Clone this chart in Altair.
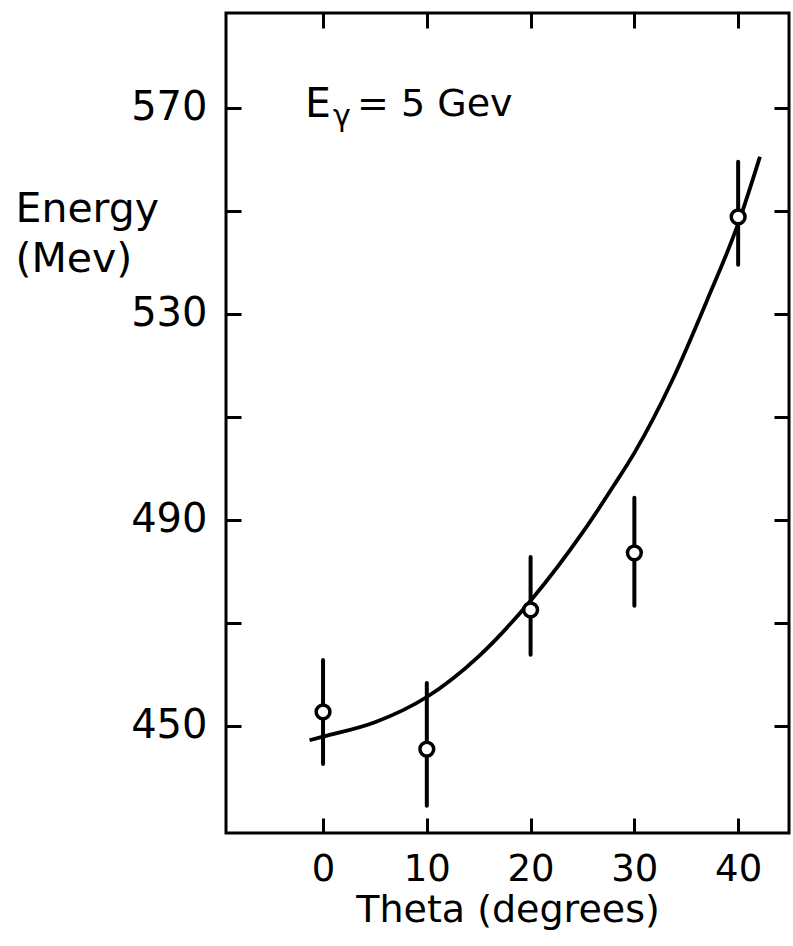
import altair as alt
import pandas as pd

# Measured energies with their error bars
theta = [0, 10, 20, 30, 40]
energy = [452.7, 445.5, 472.5, 483.6, 548.8]
energy_low = [442.6, 434.5, 463.8, 473.3, 539.5]
energy_high = [462.8, 458.3, 482.8, 494.3, 559.5]

# Smooth fitted curve through the measurements
fit_theta = [-1.3, 0, 5, 10, 15, 20, 25, 28, 30, 33.7, 37, 40, 42.1]
fit_energy = [447.2, 447.9, 450.7, 455.6, 463.5, 474.3, 487.5, 496.6, 503.0,
              517.3, 532.6, 547.5, 560.5]

# Axis ticks
x_ticks = [0, 10, 20, 30, 40]
y_ticks = [450, 470, 490, 510, 530, 550, 570]

# Beam energy annotation anchor
note_theta = [-1.73]
note_energy = [568.2]

FONT = "DejaVu Sans"

points = pd.DataFrame({"theta": theta, "energy": energy,
                       "lo": energy_low, "hi": energy_high})
fit = pd.DataFrame({"theta": fit_theta, "energy": fit_energy})
note = pd.DataFrame({"theta": note_theta, "energy": note_energy})

x_scale = alt.Scale(domain=[-9.35, 44.9], nice=False, zero=False)
y_scale = alt.Scale(domain=[429.2, 588.4], nice=False, zero=False)

# inward ticks: pull each axis 15px into the frame, ticks reach back to the border
tick_style = dict(tickSize=15, tickWidth=3, tickColor="black", domain=False,
                  grid=False, offset=-15)

x_bottom = alt.Axis(orient="bottom", values=x_ticks, labelFontSize=37, labelFont=FONT,
                    labelColor="black", labelPadding=18, labelFlush=False,
                    title="Theta (degrees)", titleFont=FONT, titleFontSize=38,
                    titleFontWeight="normal", titleColor="black", titlePadding=4,
                    **tick_style)
y_left = alt.Axis(orient="left", values=y_ticks, labelFontSize=40, labelFont=FONT,
                  labelColor="black", labelPadding=19,
                  labelExpr="datum.value % 40 == 10 ? datum.label : ''",
                  title=["Energy", "(Mev)"], titleFont=FONT, titleFontSize=41,
                  titleFontWeight="normal", titleColor="black", titleAngle=0,
                  titleAlign="left", titleBaseline="top", titleX=-226, titleY=176,
                  titleLineHeight=50, **tick_style)
x_top = alt.Axis(orient="top", values=x_ticks, labels=False, title=None, **tick_style)
y_right = alt.Axis(orient="right", values=y_ticks, labels=False, title=None, **tick_style)

curve = alt.Chart(fit).mark_line(interpolate="monotone", color="black", strokeWidth=3.8).encode(
    x=alt.X("theta:Q", scale=x_scale, axis=x_bottom),
    y=alt.Y("energy:Q", scale=y_scale, axis=y_left),
)

bars = alt.Chart(points).mark_rule(color="black", strokeWidth=4, strokeCap="round").encode(
    x=alt.X("theta:Q", scale=x_scale, axis=None),
    y=alt.Y("lo:Q", scale=y_scale, axis=None),
    y2="hi:Q",
)

dots = alt.Chart(points).mark_point(shape="circle", filled=True, fill="white", stroke="black",
                                    strokeWidth=3.5, size=190, opacity=1).encode(
    x=alt.X("theta:Q", scale=x_scale, axis=x_top),
    y=alt.Y("energy:Q", scale=y_scale, axis=y_right),
)

text_base = alt.Chart(note).encode(
    x=alt.X("theta:Q", scale=x_scale, axis=None),
    y=alt.Y("energy:Q", scale=y_scale, axis=None),
)
e_text = text_base.mark_text(text="E", font=FONT, fontSize=41, align="left",
                             baseline="alphabetic", color="black")
g_text = text_base.mark_text(text="γ", font=FONT, fontSize=30, align="left",
                             baseline="alphabetic", color="black", dx=28, dy=9)
rest_text = text_base.mark_text(text="= 5 Gev", font=FONT, fontSize=38, align="left",
                                baseline="alphabetic", color="black", dx=52, dy=-1)

chart = alt.layer(curve, bars, dots, e_text, g_text, rest_text).resolve_axis(
    x="independent", y="independent"
).properties(
    width=563, height=820,
    autosize=alt.AutoSizeParams(type="none"),
    padding={"left": 226, "top": 13, "right": 4, "bottom": 113},
    background="white",
).configure_view(stroke="black", strokeWidth=3)

chart.save("out.html", embed_options={"renderer": "svg", "actions": False})
